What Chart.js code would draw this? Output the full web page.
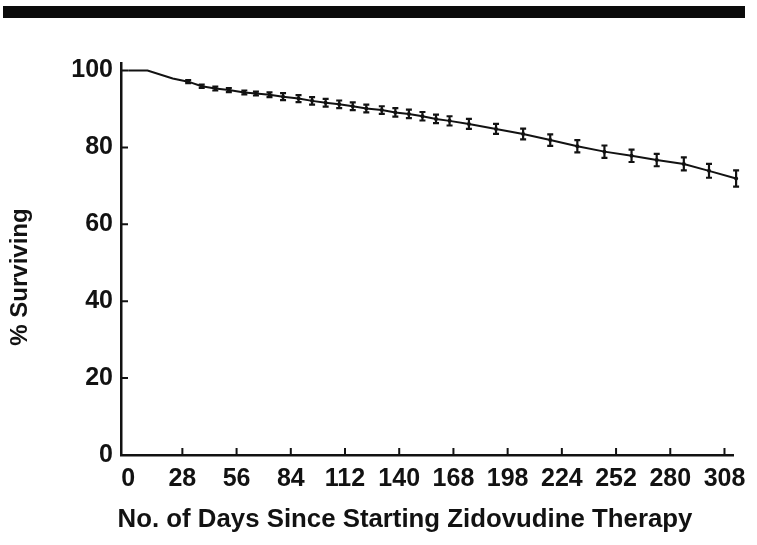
<!DOCTYPE html>
<html>
<head>
<meta charset="utf-8">
<script src="https://cdn.jsdelivr.net/npm/chart.js@4/dist/chart.umd.min.js"></script>
<style>
    html, body { margin: 0; padding: 0; background: #fff; }
    #wrap { position: relative; width: 757px; height: 545px; }
    #topBar { position: absolute; left: 3px; top: 6px; width: 742px; height: 12px; background: #0b0b0b; }
    #myChart { position: absolute; left: 0; top: 0; }
</style>
</head>
<body>
<div id="wrap">
    <div id="topBar"></div>
    <canvas id="myChart" width="757" height="545"></canvas>
</div>
<script>
// DATA

const days = [0, 10, 23, 31, 38, 45, 52, 60, 66, 73, 80, 88, 95, 102, 109, 116, 123, 131,
    138, 145, 152, 159, 166, 176, 190, 204, 218, 232, 246, 260, 273, 287, 300, 314];

const surviving = [100, 100, 97.9, 97.1, 95.9, 95.3, 94.9, 94.3, 94.0, 93.7, 93.2, 92.7, 92.1,
    91.6, 91.2, 90.7, 90.1, 89.7, 89.1, 88.7, 88.1, 87.4, 86.9, 86.1, 84.8, 83.5, 81.9,
    80.3, 78.9, 77.8, 76.7, 75.7, 73.9, 71.9];

// half-length of each error bar, in % points (0 = no bar)
const errors = [0, 0, 0, 0.4, 0.4, 0.5, 0.5, 0.5, 0.5, 0.6, 0.9, 0.9, 1.0,
    1.0, 1.0, 1.0, 1.0, 1.0, 1.1, 1.1, 1.1, 1.1, 1.2, 1.3, 1.3, 1.4, 1.5,
    1.6, 1.6, 1.6, 1.6, 1.7, 1.8, 2.1];

const xTickValues = [0, 28, 56, 84, 112, 140, 168, 196, 224, 252, 280, 308];
const xTickLabels = ['0', '28', '56', '84', '112', '140', '168', '198', '224', '252', '280', '308'];
const yTickValues = [0, 20, 40, 60, 80, 100];

const xTitle = 'No. of Days Since Starting Zidovudine Therapy';
const yTitle = '% Surviving';

// STYLE

const ink = '#121212';
const fontFamily = '"Liberation Sans", Arial, Helvetica, sans-serif';

// error bars, inward tick marks and axis titles
const extrasPlugin = {
    id: 'extras',
    afterDatasetsDraw(chart) {
        const { ctx, scales: { x, y } } = chart;
        ctx.save();
        ctx.strokeStyle = ink;
        ctx.fillStyle = ink;

        ctx.lineWidth = 2.2;
        days.forEach((d, i) => {
            const e = errors[i];
            if (!e) return;
            const px = x.getPixelForValue(d);
            const top = y.getPixelForValue(surviving[i] + e);
            const bot = y.getPixelForValue(surviving[i] - e);
            ctx.beginPath();
            ctx.moveTo(px, top); ctx.lineTo(px, bot);
            ctx.moveTo(px - 3, top); ctx.lineTo(px + 3, top);
            ctx.moveTo(px - 3, bot); ctx.lineTo(px + 3, bot);
            ctx.stroke();
        });

        ctx.lineWidth = 2;
        ctx.beginPath();
        x.ticks.forEach(t => {
            if (t.value === 0) return;
            const px = x.getPixelForValue(t.value);
            ctx.moveTo(px, y.bottom);
            ctx.lineTo(px, y.bottom - 7);
        });
        y.ticks.forEach(t => {
            if (t.value === 0) return;
            const py = y.getPixelForValue(t.value);
            ctx.moveTo(x.left, py);
            ctx.lineTo(x.left + 7, py);
        });
        ctx.stroke();

        ctx.textAlign = 'center';
        ctx.textBaseline = 'middle';
        ctx.font = 'bold 25.8px ' + fontFamily;
        ctx.fillText(xTitle, 405, 520);
        ctx.font = 'bold 24px ' + fontFamily;
        ctx.translate(20, 277);
        ctx.rotate(-Math.PI / 2);
        ctx.fillText(yTitle, 0, 0);
        ctx.restore();
    }
};

const ctx = document.getElementById('myChart').getContext('2d');

new Chart(ctx, {
    type: 'line',
    data: {
        datasets: [{
            data: days.map((d, i) => ({ x: d, y: surviving[i] })),
            borderColor: ink,
            borderWidth: 2,
            tension: 0,
            clip: false,
            pointRadius: c => errors[c.dataIndex] ? 2 : 0,
            pointBackgroundColor: ink,
            pointBorderWidth: 0
        }]
    },
    options: {
        responsive: false,
        animation: false,
        layout: { padding: { left: 0, top: 63, right: 24, bottom: 0 } },
        plugins: { legend: { display: false }, tooltip: { enabled: false } },
        scales: {
            x: {
                type: 'linear',
                min: -3.7,
                max: 312.4,
                afterBuildTicks: s => { s.ticks = xTickValues.map(v => ({ value: v })); },
                afterFit: s => { s.height = 90; },
                grid: { display: false, drawTicks: false },
                border: { display: true, color: ink, width: 2.5 },
                ticks: {
                    padding: 9,
                    color: ink,
                    maxRotation: 0,
                    autoSkip: false,
                    font: { family: fontFamily, size: 25, weight: 'bold' },
                    callback: (v, i) => xTickLabels[i]
                }
            },
            y: {
                min: 0,
                max: 101.95,
                afterBuildTicks: s => { s.ticks = yTickValues.map(v => ({ value: v })); },
                afterFit: s => { s.width = 121; },
                grid: { display: false, drawTicks: false },
                border: { display: true, color: ink, width: 2.5 },
                ticks: {
                    padding: 8,
                    color: ink,
                    font: { family: fontFamily, size: 25, weight: 'bold' }
                }
            }
        }
    },
    plugins: [extrasPlugin]
});
</script>
</body>
</html>
